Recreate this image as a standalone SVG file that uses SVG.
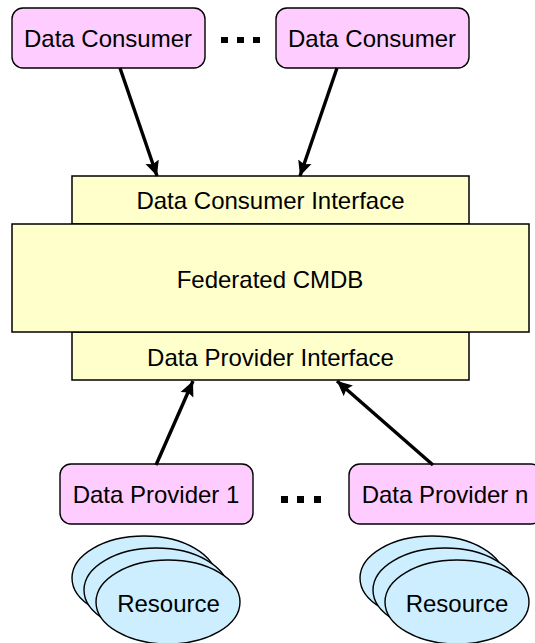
<svg xmlns="http://www.w3.org/2000/svg" width="535" height="643" viewBox="0 0 535 643">
<style>
text{font-family:"Liberation Sans",Arial,sans-serif;font-size:24px;fill:#000;text-anchor:middle}
.p{fill:#fcf;stroke:#000;stroke-width:1.4}
.y{fill:#ffc;stroke:#000;stroke-width:1.5}
.r{fill:#cef;stroke:#000;stroke-width:1.4}
.c{stroke:#000;stroke-width:3.4;fill:none;marker-end:url(#a)}
.d{fill:#000}
</style>
<defs><marker id="a" markerUnits="userSpaceOnUse" markerWidth="16" markerHeight="15" refX="15" refY="7.500" orient="auto"><path d="M0 0.500L15 7.500L0 14.500L2.500 7.500Z" fill="#000"/></marker></defs>
<rect width="535" height="643" fill="#fff"/>
<g id="consumer-1"><rect class="p" x="12" y="8" width="193" height="60" rx="11"/><text x="108" y="47">Data Consumer</text></g>
<g id="consumer-2"><rect class="p" x="276" y="8" width="193" height="60" rx="11"/><text x="372" y="47">Data Consumer</text></g>
<g id="dots-top"><rect class="d" x="221" y="37" width="7" height="6"/><rect class="d" x="237" y="37" width="7" height="6"/><rect class="d" x="253" y="37" width="7" height="6"/></g>
<g id="consumer-interface"><rect class="y" x="72" y="176" width="397" height="48"/><text x="270.500" y="208.500">Data Consumer Interface</text></g>
<g id="provider-interface"><rect class="y" x="72" y="332" width="397" height="48"/><text x="270.500" y="365.500">Data Provider Interface</text></g>
<g id="cmdb"><rect class="y" x="12" y="224" width="517" height="108"/><text x="270" y="287.500">Federated CMDB</text></g>
<g id="provider-1"><rect class="p" x="60" y="464" width="193" height="60" rx="11"/><text x="156" y="503">Data Provider 1</text></g>
<g id="provider-n"><rect class="p" x="349" y="464" width="193" height="60" rx="11"/><text x="445" y="503">Data Provider n</text></g>
<g id="dots-bottom"><rect class="d" x="281" y="496" width="7" height="7"/><rect class="d" x="297" y="496" width="7" height="7"/><rect class="d" x="314" y="496" width="7" height="7"/></g>
<g id="resources-1"><ellipse class="r" cx="144" cy="578" rx="72" ry="42"/><ellipse class="r" cx="156" cy="590" rx="72" ry="42"/><ellipse class="r" cx="168" cy="602" rx="72" ry="42"/><text x="168.500" y="612">Resource</text></g>
<g id="resources-n"><ellipse class="r" cx="432" cy="578" rx="72" ry="42"/><ellipse class="r" cx="445" cy="590" rx="72" ry="42"/><ellipse class="r" cx="457" cy="602" rx="72" ry="42"/><text x="457" y="612">Resource</text></g>
<g id="connectors">
<line class="c" x1="120" y1="68" x2="157" y2="176"/>
<line class="c" x1="337" y1="68" x2="300" y2="176"/>
<line class="c" x1="156" y1="465" x2="193" y2="381"/>
<line class="c" x1="433" y1="465" x2="337" y2="381"/>
</g>
</svg>
